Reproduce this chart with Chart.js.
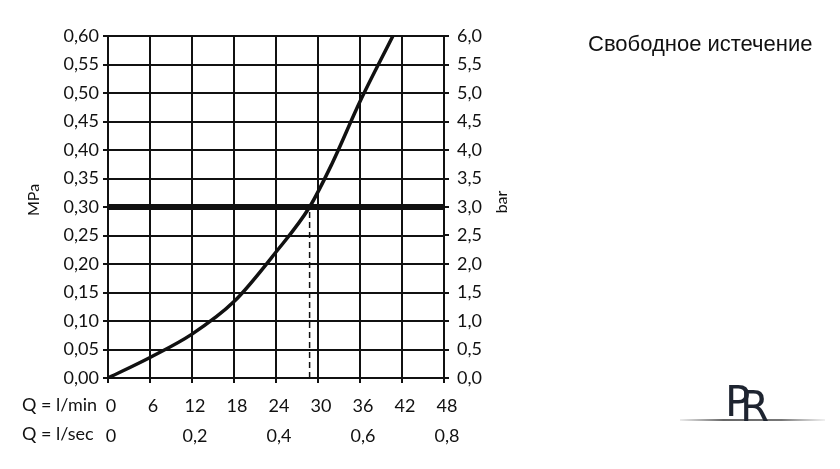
<!DOCTYPE html>
<html>
<head>
<meta charset="utf-8">
<script src="https://cdn.jsdelivr.net/npm/chart.js@4.4.0/dist/chart.umd.min.js"></script>
<style>
  html, body { margin: 0; padding: 0; background: #fff; }
</style>
</head>
<body>
<canvas id="chart" width="840" height="469"></canvas>
<script>
// flow curve (Q in l/min, p in MPa)
const flowLpm = [0, 6, 12, 18, 24, 28.8, 32, 36, 40.7];
const pressureMPa = [0, 0.036, 0.077, 0.134, 0.221, 0.3, 0.376, 0.485, 0.6];

// working pressure and the flow at that pressure
const limitMPa = 0.3;
const limitFlow = 28.8;

// tick labels
const lpmTicks = ["0", "6", "12", "18", "24", "30", "36", "42", "48"];
const lpsTicks = ["0", "0,2", "0,4", "0,6", "0,8"];
const mpaTicks = ["0,00", "0,05", "0,10", "0,15", "0,20", "0,25", "0,30",
  "0,35", "0,40", "0,45", "0,50", "0,55", "0,60"];
const barTicks = ["0,0", "0,5", "1,0", "1,5", "2,0", "2,5", "3,0",
  "3,5", "4,0", "4,5", "5,0", "5,5", "6,0"];

const qMax = 48;
const pMax = 0.6;
const barMax = 6;

const ink = "#111";
const tickFont = { family: "Lato", size: 18 };

const labelsPlugin = {
  id: "extraLabels",
  afterDraw(chart) {
    const ctx = chart.ctx;
    const area = chart.chartArea;
    ctx.save();
    ctx.fillStyle = ink;

    // row captions for the two flow scales
    ctx.font = "18px Lato";
    ctx.textAlign = "left";
    ctx.textBaseline = "top";
    ctx.fillText("Q = l/min", 22, 396);
    ctx.fillText("Q = l/sec", 22, 425);

    // axis titles, both reading bottom to top
    ctx.font = "16px Lato";
    ctx.textAlign = "center";
    ctx.textBaseline = "middle";
    ctx.save();
    ctx.translate(34, 200);
    ctx.rotate(-Math.PI / 2);
    ctx.fillText("MPa", 0, 0);
    ctx.restore();
    ctx.save();
    ctx.translate(area.right + 58, 202);
    ctx.rotate(-Math.PI / 2);
    ctx.fillText("bar", 0, 0);
    ctx.restore();

    // heading
    ctx.font = "22px 'Liberation Sans'";
    ctx.textAlign = "left";
    ctx.textBaseline = "alphabetic";
    ctx.fillText("Свободное истечение", 588, 51);

    // logo
    const grad = ctx.createLinearGradient(680, 0, 825, 0);
    grad.addColorStop(0, "rgba(120,120,120,0.15)");
    grad.addColorStop(0.3, "#666");
    grad.addColorStop(0.7, "#777");
    grad.addColorStop(1, "rgba(150,150,150,0.15)");
    ctx.fillStyle = grad;
    ctx.fillRect(680, 419, 145, 2);
    ctx.fillStyle = "#1e2430";
    ctx.font = "42px 'DejaVu Sans'";
    ctx.fillText("P", 725, 416);
    ctx.fillText("R", 740, 421);

    ctx.restore();
  }
};

const ctx = document.getElementById("chart").getContext("2d");
new Chart(ctx, {
  type: "line",
  data: {
    datasets: [
      {
        data: flowLpm.map((q, i) => ({ x: q, y: pressureMPa[i] })),
        borderColor: ink,
        borderWidth: 3.5,
        pointRadius: 0,
        cubicInterpolationMode: "monotone"
      },
      {
        data: [{ x: 0, y: limitMPa }, { x: qMax, y: limitMPa }],
        borderColor: ink,
        borderWidth: 6,
        pointRadius: 0
      },
      {
        data: [{ x: limitFlow, y: 0 }, { x: limitFlow, y: limitMPa }],
        borderColor: ink,
        borderWidth: 1.5,
        borderDash: [6, 4],
        pointRadius: 0
      }
    ]
  },
  options: {
    responsive: false,
    animation: false,
    devicePixelRatio: 1,
    layout: { padding: { left: 0, top: 36, right: 320, bottom: 0 } },
    plugins: {
      legend: { display: false },
      tooltip: { enabled: false }
    },
    scales: {
      x: {
        type: "linear",
        position: "bottom",
        min: 0,
        max: qMax,
        afterFit: (s) => { s.height = 45; },
        grid: { color: ink, lineWidth: 2, tickLength: 5 },
        border: { color: ink, width: 2 },
        ticks: {
          stepSize: 6,
          color: ink,
          font: tickFont,
          padding: 12,
          labelOffset: 3,
          maxRotation: 0,
          callback: (v, i) => lpmTicks[i]
        }
      },
      x2: {
        type: "linear",
        axis: "x",
        position: "bottom",
        min: 0,
        max: qMax,
        afterFit: (s) => { s.height = 46; },
        grid: { display: false, drawTicks: false },
        border: { display: false },
        ticks: {
          stepSize: 12,
          color: ink,
          font: tickFont,
          padding: 2,
          labelOffset: 3,
          maxRotation: 0,
          callback: (v, i) => lpsTicks[i]
        }
      },
      y: {
        type: "linear",
        position: "left",
        min: 0,
        max: pMax,
        afterFit: (s) => { s.width = 108; },
        grid: { color: ink, lineWidth: 2, tickLength: 5 },
        border: { color: ink, width: 2 },
        ticks: {
          stepSize: 0.05,
          color: ink,
          font: tickFont,
          padding: 4,
          callback: (v, i) => mpaTicks[i]
        }
      },
      y2: {
        type: "linear",
        position: "right",
        min: 0,
        max: barMax,
        afterFit: (s) => { s.width = 76; },
        grid: { drawOnChartArea: false, color: ink, lineWidth: 2, tickLength: 5 },
        border: { color: ink, width: 2 },
        ticks: {
          stepSize: 0.5,
          color: ink,
          font: tickFont,
          padding: 8,
          callback: (v, i) => barTicks[i]
        }
      }
    }
  },
  plugins: [labelsPlugin]
});
</script>
</body>
</html>
